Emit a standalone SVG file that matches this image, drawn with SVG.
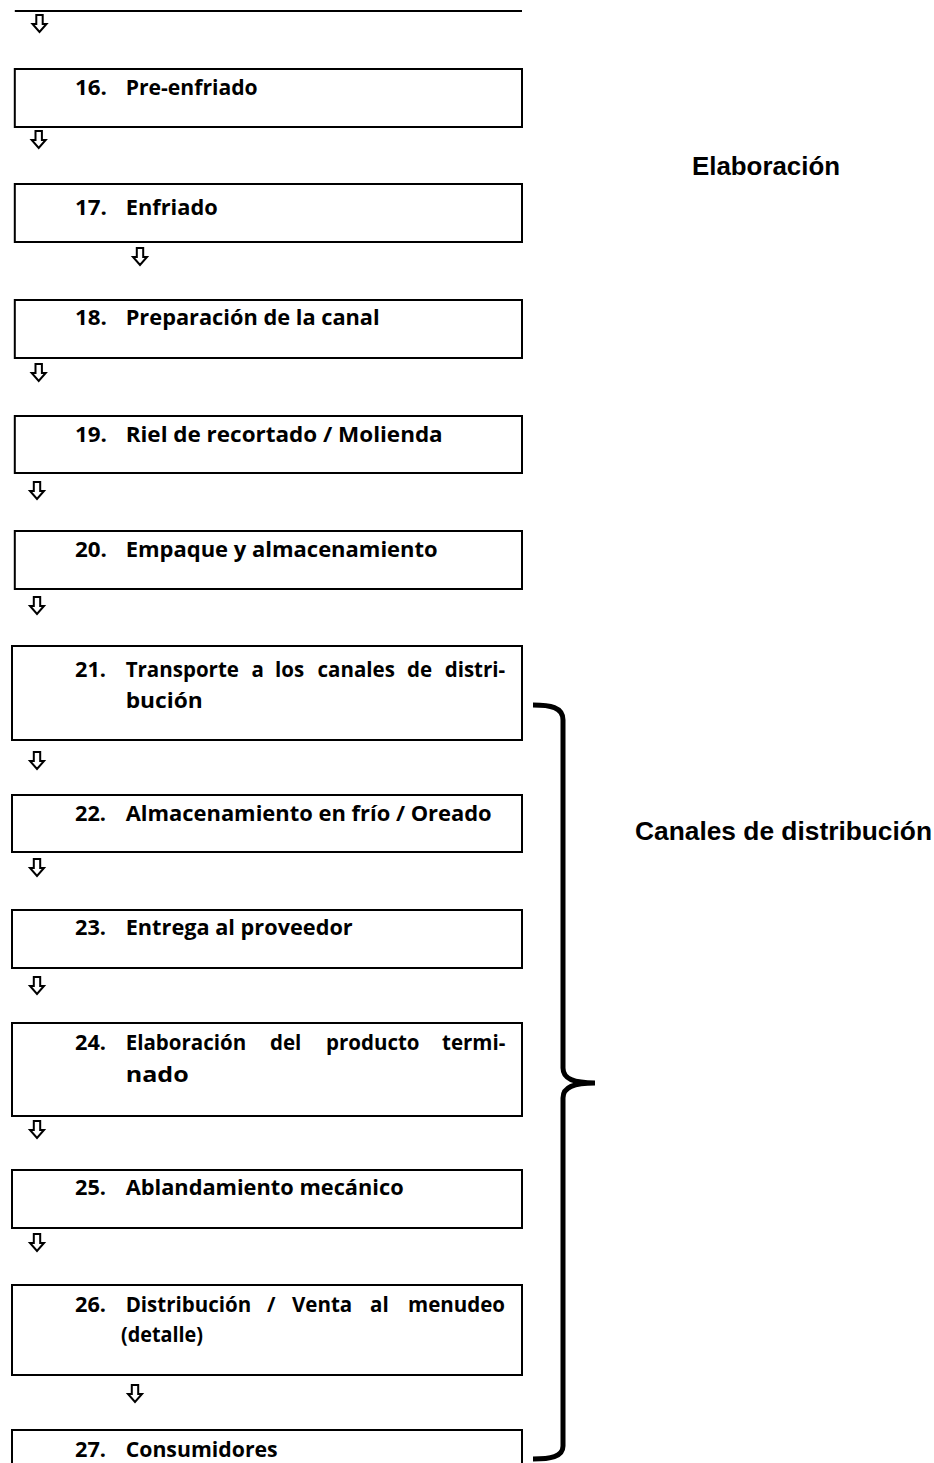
<svg xmlns="http://www.w3.org/2000/svg" xmlns:xlink="http://www.w3.org/1999/xlink" width="934" height="1463" viewBox="0 0 934 1463">
<style>
.box{fill:#fff;stroke:#000;stroke-width:2}
.t{font-family:"Open Sans",Lato,"Liberation Sans",sans-serif;font-weight:bold;font-size:20.5px;fill:#000}
.lbl{font-family:"Liberation Sans",Arial,sans-serif;font-weight:bold;font-size:25px;fill:#000}
.arr{fill:#fff;stroke:#000;stroke-width:2;stroke-linejoin:miter}
.brace{fill:none;stroke:#000;stroke-width:5;stroke-linecap:butt}
</style>
<defs>
<path id="dn" class="arr" d="M-3.2,0 H3.2 V9 H7 L0,17 L-7,9 H-3.2 Z"/>
</defs>
<rect width="934" height="1463" fill="#fff"/>
<line x1="14.8" y1="11" x2="522" y2="11" stroke="#000" stroke-width="2"/>
<g id="connectors">
<use xlink:href="#dn" x="39.5" y="15"/>
<use xlink:href="#dn" x="38.7" y="131"/>
<use xlink:href="#dn" x="140" y="248"/>
<use xlink:href="#dn" x="38.7" y="364"/>
<use xlink:href="#dn" x="37" y="482"/>
<use xlink:href="#dn" x="37" y="597"/>
<use xlink:href="#dn" x="37" y="752"/>
<use xlink:href="#dn" x="37" y="859"/>
<use xlink:href="#dn" x="37" y="977"/>
<use xlink:href="#dn" x="37" y="1121"/>
<use xlink:href="#dn" x="37" y="1234"/>
<use xlink:href="#dn" x="135" y="1385"/>
</g>
<g id="n16"><rect class="box" x="14.8" y="69" width="507.2" height="58"/><text class="t" x="75" y="95" textLength="32" lengthAdjust="spacingAndGlyphs">16.</text><text class="t" x="125.7" y="95" textLength="132" lengthAdjust="spacingAndGlyphs">Pre-enfriado</text></g>
<g id="n17"><rect class="box" x="14.8" y="184" width="507.2" height="58"/><text class="t" x="75" y="215" textLength="32" lengthAdjust="spacingAndGlyphs">17.</text><text class="t" x="125.7" y="215" textLength="92" lengthAdjust="spacingAndGlyphs">Enfriado</text></g>
<g id="n18"><rect class="box" x="14.8" y="300" width="507.2" height="58"/><text class="t" x="75" y="325" textLength="32" lengthAdjust="spacingAndGlyphs">18.</text><text class="t" x="125.7" y="325" textLength="254" lengthAdjust="spacingAndGlyphs">Preparación de la canal</text></g>
<g id="n19"><rect class="box" x="14.8" y="416" width="507.2" height="57"/><text class="t" x="75" y="442" textLength="32" lengthAdjust="spacingAndGlyphs">19.</text><text class="t" x="125.7" y="442" textLength="317" lengthAdjust="spacingAndGlyphs">Riel de recortado / Molienda</text></g>
<g id="n20"><rect class="box" x="14.8" y="531" width="507.2" height="58"/><text class="t" x="75" y="557" textLength="32" lengthAdjust="spacingAndGlyphs">20.</text><text class="t" x="125.7" y="557" textLength="312" lengthAdjust="spacingAndGlyphs">Empaque y almacenamiento</text></g>
<g id="n21"><rect class="box" x="12" y="646" width="510" height="94"/><text class="t" x="75" y="677" textLength="31" lengthAdjust="spacingAndGlyphs">21.</text><text class="t" y="677"><tspan x="125.7">Transporte</tspan> <tspan x="251.5">a</tspan> <tspan x="275">los</tspan> <tspan x="317.5">canales</tspan> <tspan x="407">de</tspan> <tspan x="444.7">distri-</tspan></text><text class="t" x="125.7" y="708" textLength="77" lengthAdjust="spacingAndGlyphs">bución</text></g>
<g id="n22"><rect class="box" x="12" y="795" width="510" height="57"/><text class="t" x="75" y="821" textLength="31" lengthAdjust="spacingAndGlyphs">22.</text><text class="t" x="125.7" y="821" textLength="366" lengthAdjust="spacingAndGlyphs">Almacenamiento en frío / Oreado</text></g>
<g id="n23"><rect class="box" x="12" y="910" width="510" height="58"/><text class="t" x="75" y="935" textLength="31" lengthAdjust="spacingAndGlyphs">23.</text><text class="t" x="125.7" y="935" textLength="227" lengthAdjust="spacingAndGlyphs">Entrega al proveedor</text></g>
<g id="n24"><rect class="box" x="12" y="1023" width="510" height="93"/><text class="t" x="75" y="1050" textLength="31" lengthAdjust="spacingAndGlyphs">24.</text><text class="t" y="1050"><tspan x="125.7">Elaboración</tspan> <tspan x="270">del</tspan> <tspan x="326">producto</tspan> <tspan x="442">termi-</tspan></text><text class="t" x="125.7" y="1082" textLength="63" lengthAdjust="spacingAndGlyphs">nado</text></g>
<g id="n25"><rect class="box" x="12" y="1170" width="510" height="58"/><text class="t" x="75" y="1195" textLength="31" lengthAdjust="spacingAndGlyphs">25.</text><text class="t" x="125.7" y="1195" textLength="278" lengthAdjust="spacingAndGlyphs">Ablandamiento mecánico</text></g>
<g id="n26"><rect class="box" x="12" y="1285" width="510" height="90"/><text class="t" x="75" y="1312" textLength="31" lengthAdjust="spacingAndGlyphs">26.</text><text class="t" y="1312"><tspan x="125.7">Distribución</tspan> <tspan x="267">/</tspan> <tspan x="292">Venta</tspan> <tspan x="370">al</tspan> <tspan x="408">menudeo</tspan></text><text class="t" x="121" y="1342" textLength="82" lengthAdjust="spacingAndGlyphs">(detalle)</text></g>
<g id="n27"><rect class="box" x="12" y="1430" width="510" height="50"/><text class="t" x="75" y="1457" textLength="31" lengthAdjust="spacingAndGlyphs">27.</text><text class="t" x="125.7" y="1457" textLength="152" lengthAdjust="spacingAndGlyphs">Consumidores</text></g>
<g id="brace"><path class="brace" d="M533,705 C550,705 563,707 563,720 V1068 C563,1079 574,1083 595,1083 C574,1083 563,1087 563,1098 V1446 C563,1457 550,1459 533,1459"/></g>
<g id="labels">
<text class="lbl" x="692" y="175" textLength="148" lengthAdjust="spacingAndGlyphs">Elaboración</text>
<text class="lbl" x="635" y="840" textLength="297" lengthAdjust="spacingAndGlyphs">Canales de distribución</text>
</g>
</svg>
